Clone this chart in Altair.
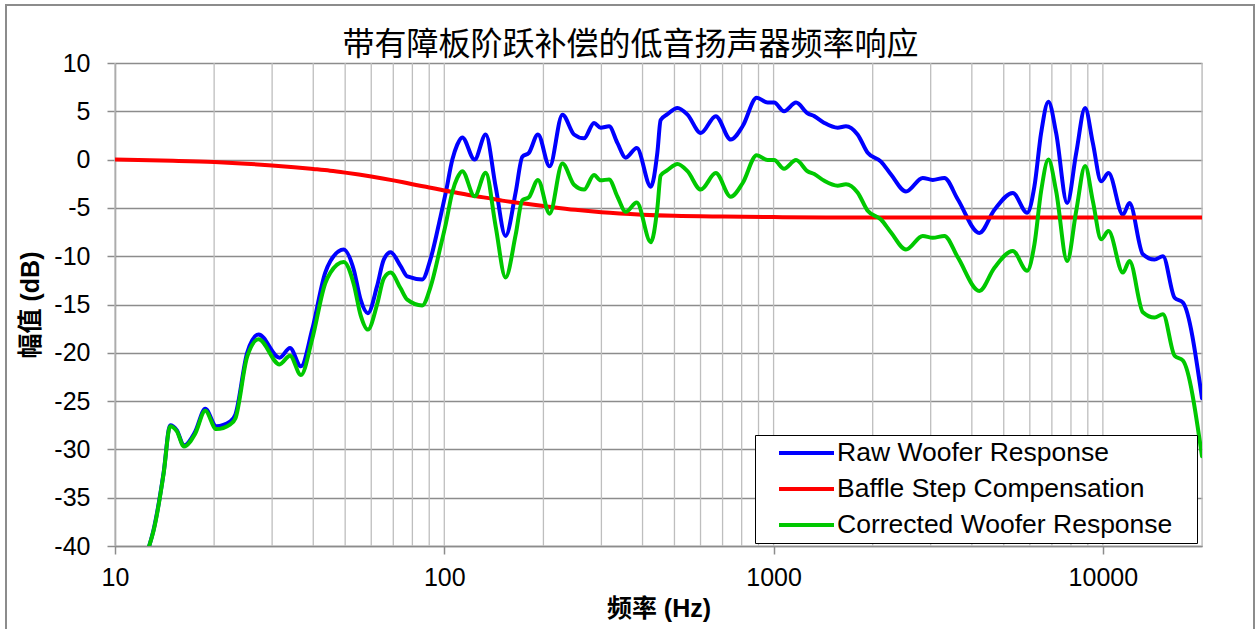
import altair as alt
import pandas as pd

# ---- text -------------------------------------------------------------
title_text = "带有障板阶跃补偿的低音扬声器频率响应"
x_title = "频率 (Hz)"
y_title = "幅值 (dB)"
series_names = ["Raw Woofer Response", "Baffle Step Compensation", "Corrected Woofer Response"]
series_colors = ["#0000FF", "#FF0000", "#00C800"]

# ---- measured woofer response (Hz, dB) -------------------------------
freq_hz = [12.7, 13.1, 14.05, 14.7, 15.4, 16.2, 17.5, 18.8, 20.3, 22.4,
           23.2, 25.2, 27.3, 31.6, 34.0, 36.7, 39.7, 43.5, 45.1, 49.5,
           53.1, 55.7, 58.6, 62.5, 65.5, 68.7, 73.6, 77.2, 85.7, 90.8,
           97.4, 101, 105.8, 109.5, 113.4, 123.6, 133.6, 143.2, 153.5, 164.7,
           172.6, 180.7, 192.5, 208.9, 228.4, 247.7, 265.7, 284.9, 298.5, 316.5,
           335.7, 355.6, 384.2, 423.8, 443.6, 454, 476, 510.8, 547.6, 601,
           667.7, 741.3, 805, 889, 959, 1004, 1076, 1170, 1268, 1329,
           1426, 1565, 1659, 1799, 1931, 2119, 2273, 2524, 2837, 3043,
           3301, 3624, 4217, 4685, 5326, 5888, 6194, 6494, 6833, 7211,
           7791, 8300, 8831, 9324, 9881, 10404, 11503, 12046, 13230, 14350,
           15220, 16510, 17500, 20000]

raw_db = [-40.0, -38.3, -32.4, -27.5, -28.0, -29.6, -28.2, -25.8, -27.6, -27.1,
          -26.4, -20.0, -18.1, -20.5, -19.5, -21.4, -17.6, -11.7, -10.5, -9.3,
          -11.4, -14.5, -15.9, -13.1, -10.35, -9.6, -11.0, -12.1, -12.4, -10.3,
          -5.9, -3.45, 0.0, 1.55, 2.3, 0.0, 2.6, -2.8, -7.9, -3.4,
          0.3, 0.7, 2.6, -0.7, 4.65, 2.6, 2.2, 3.8, 3.3, 3.45,
          1.7, 0.2, 1.2, -2.8, 0.7, 4.1, 4.7, 5.35, 4.65, 2.76,
          4.5, 2.07, 3.45, 6.4, 5.9, 5.9, 5.0, 5.9, 4.8, 4.5,
          3.8, 3.3, 3.45, 2.6, 0.7, -0.2, -1.55, -3.3, -1.9, -2.1,
          -1.9, -4.1, -7.6, -5.2, -3.45, -5.5, -2.8, 2.76, 6.0, 2.76,
          -4.5, 0.7, 5.35, 1.7, -2.25, -1.4, -5.7, -4.5, -9.8, -10.35,
          -10.0, -14.3, -14.8, -24.7]

corrected_db = [-40.0, -38.4, -32.5, -27.6, -28.1, -29.7, -28.4, -26.0, -27.9, -27.4,
                -26.8, -20.4, -18.6, -21.2, -20.3, -22.3, -18.6, -12.8, -11.7, -10.6,
                -12.9, -16.1, -17.6, -15.0, -12.3, -11.7, -13.3, -14.5, -15.1, -13.2,
                -9.0, -6.7, -3.35, -1.9, -1.2, -3.8, -1.35, -6.9, -12.2, -7.8,
                -4.2, -3.9, -2.1, -5.6, -0.4, -2.6, -3.1, -1.6, -2.15, -2.05,
                -3.85, -5.4, -4.45, -8.55, -5.05, -1.65, -1.1, -0.45, -1.2, -3.1,
                -1.4, -3.85, -2.45, 0.45, -0.05, -0.05, -0.95, -0.05, -1.2, -1.5,
                -2.2, -2.7, -2.55, -3.4, -5.3, -6.2, -7.55, -9.3, -7.9, -8.1,
                -7.9, -10.1, -13.6, -11.2, -9.45, -11.5, -8.8, -3.25, 0.0, -3.25,
                -10.5, -5.3, -0.65, -4.3, -8.25, -7.4, -11.7, -10.5, -15.8, -16.35,
                -16.0, -20.3, -20.8, -30.7]

# ---- baffle step compensation curve ----------------------------------
bsc_hz = [10, 15, 20, 25, 30, 35, 40, 45, 50, 55,
          60, 65, 70, 75, 80, 90, 100, 110, 125, 140,
          150, 175, 200, 250, 300, 400, 500, 700, 1000, 1500,
          20000]
bsc_db = [0.0, -0.12, -0.25, -0.42, -0.6, -0.78, -0.97, -1.15, -1.35, -1.55,
          -1.75, -1.95, -2.15, -2.35, -2.55, -2.88, -3.2, -3.45, -3.8, -4.05,
          -4.25, -4.55, -4.8, -5.2, -5.45, -5.7, -5.82, -5.9, -5.95, -6.0,
          -6.0]

# ---- axes --------------------------------------------------------------
x_label_values = [10, 100, 1000, 10000]
y_label_values = [-40, -35, -30, -25, -20, -15, -10, -5, 0, 5, 10]
grid_hz = [m * 10 ** e for e in (1, 2, 3) for m in range(1, 10)] + [10000, 20000]

W, H = 1087, 483
AXIS_GREY = "#8C8C8C"
LATIN = "Liberation Sans"
MIXED = "Liberation Sans, Noto Sans CJK SC"

lines_df = pd.concat([
    pd.DataFrame({"freq": freq_hz, "db": raw_db, "series": series_names[0]}),
    pd.DataFrame({"freq": bsc_hz, "db": bsc_db, "series": series_names[1]}),
    pd.DataFrame({"freq": freq_hz, "db": corrected_db, "series": series_names[2]}),
], ignore_index=True)
grid_df = pd.DataFrame({"freq": grid_hz})

x_scale = alt.Scale(type="log", domain=[10, 20000], nice=False)
y_scale = alt.Scale(domain=[-40, 10], nice=False)

x_axis = alt.Axis(values=x_label_values, format="d", grid=False,
                  domainColor=AXIS_GREY, domainWidth=1.5,
                  tickColor=AXIS_GREY, tickWidth=1.5, tickSize=8,
                  labelFont=LATIN, labelFontSize=25, labelColor="black",
                  labelPadding=11, labelFlush=False, labelOverlap=False,
                  title=x_title, titleFont=MIXED, titleFontSize=25,
                  titleFontWeight="bold", titleColor="black", titlePadding=6)
y_axis = alt.Axis(values=y_label_values, labelExpr="datum.value + ''",
                  grid=True, gridColor=AXIS_GREY, gridWidth=1.5,
                  domainColor=AXIS_GREY, domainWidth=1.5,
                  tickColor=AXIS_GREY, tickWidth=1.5, tickSize=8,
                  labelFont=LATIN, labelFontSize=25, labelColor="black",
                  labelPadding=17, labelFlush=False, labelOverlap=False,
                  title=y_title, titleFont=MIXED, titleFontSize=25,
                  titleFontWeight="bold", titleColor="black", titlePadding=10)

# trailing no-break spaces widen the legend box on the right; the zero-width
# space at the end keeps them from being trimmed
legend = alt.Legend(title=None, orient="none", legendX=640, legendY=372,
                    symbolType="stroke", symbolSize=3025, symbolStrokeWidth=4,
                    labelFont=LATIN, labelFontSize=26.5, labelColor="black",
                    labelOffset=1, labelLimit=700,
                    labelExpr="datum.label + '\u00a0\u00a0\u00a0\u200a\u200b'",
                    strokeColor="black", fillColor="white", padding=0,
                    clipHeight=36, rowPadding=0, symbolOffset=22)

color = alt.Color("series:N", scale=alt.Scale(domain=series_names, range=series_colors),
                  legend=legend)

# light vertical grid at every 1-9 x decade
vgrid = alt.Chart(grid_df).mark_rule(color="#BEBEBE", strokeWidth=1.3).encode(
    x=alt.X("freq:Q", scale=x_scale, axis=x_axis),
    y=alt.value(0),
    y2=alt.value(H),
)

def series_layer(name):
    return alt.Chart(lines_df).transform_filter(
        alt.datum.series == name
    ).mark_line(strokeWidth=4, interpolate="monotone", clip=True,
                strokeJoin="round", strokeCap="round").encode(
        x=alt.X("freq:Q", scale=x_scale, axis=x_axis),
        y=alt.Y("db:Q", scale=y_scale, axis=y_axis),
        color=color,
        order=alt.Order("freq:Q"),
    )

# outer chart frame
frame = alt.Chart(grid_df).mark_rect(filled=False, stroke=AXIS_GREY, strokeWidth=2).encode(
    x=alt.value(-109), x2=alt.value(1139), y=alt.value(-58), y2=alt.value(600)
)

chart = alt.layer(
    vgrid,
    series_layer(series_names[0]),
    series_layer(series_names[1]),
    series_layer(series_names[2]),
    frame,
).properties(
    width=W,
    height=H,
    padding={"left": 115, "top": 63, "right": 55, "bottom": 83},
    autosize=alt.AutoSizeParams(type="none"),
    title=alt.TitleParams(text=title_text, font="Noto Sans CJK SC", fontSize=32,
                          fontWeight="normal", color="black", anchor="middle",
                          dx=-28, dy=58, offset=0),
).configure_view(strokeOpacity=0).configure(background="white")

chart.save("out.html", embed_options={"renderer": "svg", "actions": False})
